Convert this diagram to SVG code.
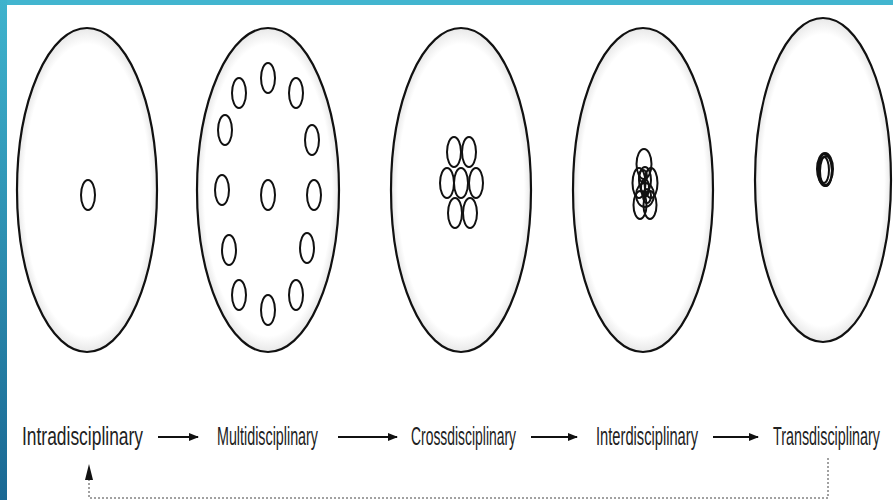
<svg xmlns="http://www.w3.org/2000/svg" width="893" height="500" viewBox="0 0 893 500">
<defs>
<linearGradient id="sideBar" x1="0" y1="0" x2="0" y2="1">
<stop offset="0" stop-color="#3fb3cd"/>
<stop offset="1" stop-color="#1a6893"/>
</linearGradient>
<radialGradient id="shade" cx="0.5" cy="0.5" r="0.5">
<stop offset="0.9" stop-color="#ffffff"/>
<stop offset="1" stop-color="#e8e8e8"/>
</radialGradient>
<marker id="arr" markerWidth="10" markerHeight="8" refX="9" refY="4" orient="auto" markerUnits="userSpaceOnUse">
<path d="M0,0 L10,4 L0,8 Z" fill="#111"/>
</marker>
</defs>
<style>
.big{fill:url(#shade);stroke:#111;stroke-width:2.2}
.sm{fill:none;stroke:#111;stroke-width:2}
.lbl{font-family:"Liberation Sans",Arial,sans-serif;font-size:25px;fill:#222}
.flow{stroke:#111;stroke-width:2.2;fill:none}
.dash{stroke:#444;stroke-width:1;fill:none;stroke-dasharray:2 2}
</style>
<rect x="0" y="0" width="893" height="500" fill="#ffffff"/>
<rect x="0" y="0" width="893" height="5" fill="#42b5cf"/>
<rect x="0" y="0" width="7" height="500" fill="url(#sideBar)"/>

<g id="intra">
<ellipse class="big" cx="87" cy="190" rx="70" ry="162"/>
<ellipse class="sm" cx="88" cy="195" rx="7" ry="15"/>
</g>

<g id="multi">
<ellipse class="big" cx="268" cy="190" rx="71" ry="162"/>
<ellipse class="sm" cx="268" cy="78" rx="7" ry="15"/>
<ellipse class="sm" cx="239" cy="93" rx="7" ry="15"/>
<ellipse class="sm" cx="296" cy="93" rx="7" ry="15"/>
<ellipse class="sm" cx="225" cy="130" rx="7" ry="15"/>
<ellipse class="sm" cx="312" cy="140" rx="7" ry="15"/>
<ellipse class="sm" cx="222" cy="190" rx="7" ry="15"/>
<ellipse class="sm" cx="268" cy="195" rx="7" ry="15"/>
<ellipse class="sm" cx="314" cy="195" rx="7" ry="15"/>
<ellipse class="sm" cx="229" cy="250" rx="7" ry="15"/>
<ellipse class="sm" cx="307" cy="248" rx="7" ry="15"/>
<ellipse class="sm" cx="239" cy="295" rx="7" ry="15"/>
<ellipse class="sm" cx="268" cy="310" rx="7" ry="15"/>
<ellipse class="sm" cx="296" cy="295" rx="7" ry="15"/>
</g>

<g id="cross">
<ellipse class="big" cx="461" cy="190" rx="70" ry="162"/>
<ellipse class="sm" cx="454" cy="152" rx="7" ry="15"/>
<ellipse class="sm" cx="469" cy="152" rx="7" ry="15"/>
<ellipse class="sm" cx="447" cy="183" rx="7" ry="15"/>
<ellipse class="sm" cx="461" cy="183" rx="7" ry="15"/>
<ellipse class="sm" cx="476" cy="183" rx="7" ry="15"/>
<ellipse class="sm" cx="455" cy="213" rx="7" ry="15"/>
<ellipse class="sm" cx="470" cy="213" rx="7" ry="15"/>
</g>

<g id="inter">
<ellipse class="big" cx="643" cy="190" rx="70" ry="162"/>
<ellipse class="sm" cx="644" cy="164" rx="7.5" ry="15"/>
<ellipse class="sm" cx="639" cy="183" rx="6.5" ry="15"/>
<ellipse class="sm" cx="651" cy="183" rx="6.5" ry="15"/>
<ellipse class="sm" cx="645" cy="180" rx="6" ry="13"/>
<ellipse class="sm" cx="640" cy="205" rx="6.5" ry="14"/>
<ellipse class="sm" cx="650" cy="205" rx="6.5" ry="14"/>
<ellipse class="sm" cx="645" cy="195" rx="9" ry="12"/>
<ellipse class="sm" cx="645" cy="188" rx="4" ry="9"/>
<ellipse class="sm" cx="643" cy="176" rx="4" ry="6"/>
<ellipse class="sm" cx="647" cy="196" rx="4" ry="7"/>
</g>

<g id="trans">
<ellipse class="big" cx="823" cy="180" rx="68" ry="162"/>
<ellipse class="sm" cx="825" cy="170" rx="7" ry="16" stroke-width="2.4"/>
<ellipse class="sm" cx="826" cy="171" rx="6" ry="15"/>
<ellipse class="sm" cx="824" cy="170" rx="5" ry="13"/>
<ellipse class="sm" cx="825" cy="169" rx="8" ry="16"/>
</g>

<g id="labels">
<text class="lbl" transform="translate(22,445) scale(0.6,1)" textLength="201.7" lengthAdjust="spacingAndGlyphs">Intradisciplinary</text>
<text class="lbl" transform="translate(217,445) scale(0.6,1)" textLength="168.3" lengthAdjust="spacingAndGlyphs">Multidisciplinary</text>
<text class="lbl" transform="translate(411,445) scale(0.6,1)" textLength="175" lengthAdjust="spacingAndGlyphs">Crossdisciplinary</text>
<text class="lbl" transform="translate(596,445) scale(0.6,1)" textLength="170" lengthAdjust="spacingAndGlyphs">Interdisciplinary</text>
<text class="lbl" transform="translate(773,445) scale(0.6,1)" textLength="178.3" lengthAdjust="spacingAndGlyphs">Transdisciplinary</text>
</g>

<g id="connectors">
<line class="flow" x1="158" y1="437" x2="198" y2="437" marker-end="url(#arr)"/>
<line class="flow" x1="338" y1="437" x2="397" y2="437" marker-end="url(#arr)"/>
<line class="flow" x1="531" y1="437" x2="577" y2="437" marker-end="url(#arr)"/>
<line class="flow" x1="713" y1="437" x2="758" y2="437" marker-end="url(#arr)"/>
<path class="dash" d="M828,458 L828,498 L89,498 L89,478"/>
<path d="M85,480 L89,464 L93,480 Z" fill="#111"/>
</g>
</svg>
